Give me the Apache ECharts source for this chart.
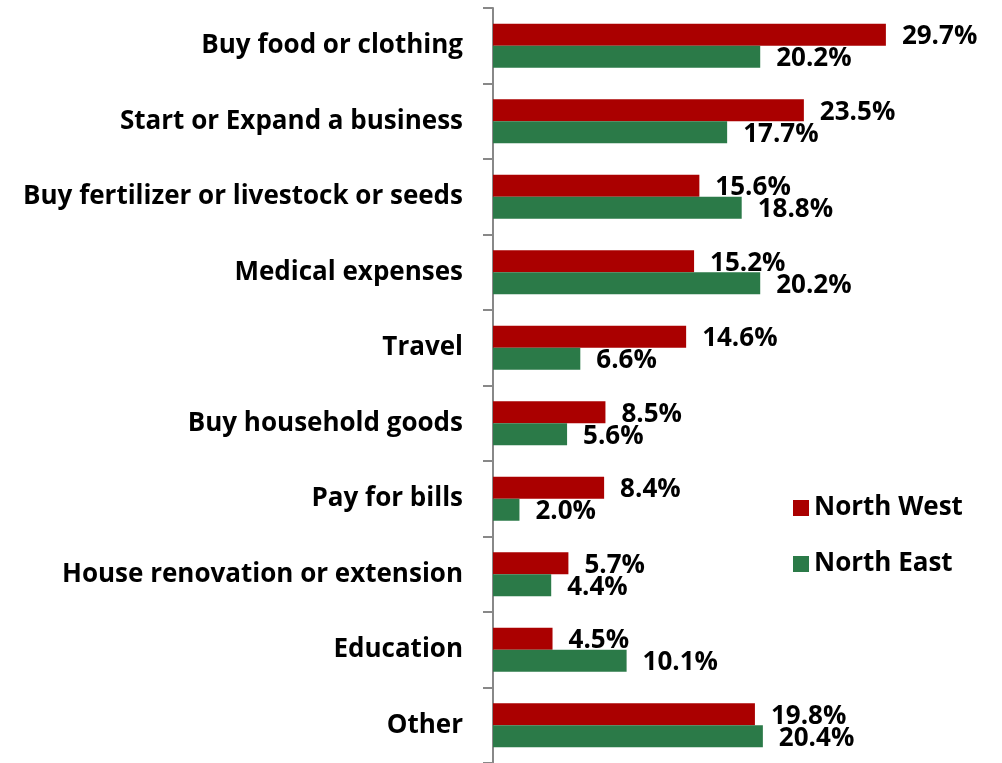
<!DOCTYPE html>
<html lang="en">
<head>
  <meta charset="UTF-8">
  <title>echarts</title>
  <style>
  html, body { margin: 0; padding: 0; background: #fff; }
  #main { width: 1002px; height: 763px; }
  </style>
  <script src="https://cdn.jsdelivr.net/npm/echarts@6/dist/echarts.min.js"></script>
</head>
<body>
  <div id="main"></div>
  <script>
  var categories = [
    'Buy food or clothing',
    'Start or Expand a business',
    'Buy fertilizer or livestock or seeds',
    'Medical expenses',
    'Travel',
    'Buy household goods',
    'Pay for bills',
    'House renovation or extension',
    'Education',
    'Other'
  ]
  var northWest = [29.7, 23.5, 15.6, 15.2, 14.6, 8.5, 8.4, 5.7, 4.5, 19.8]
  var northEast = [20.2, 17.7, 18.8, 20.2, 6.6, 5.6, 2.0, 4.4, 10.1, 20.4]

  var font = 'Open Sans'
  var valueLabel = {
    show: true,
    position: 'right',
    distance: 16,
    offset: [0, 2],
    color: '#000',
    fontFamily: font,
    fontWeight: 'bold',
    fontSize: 26,
    formatter: function (p) {
      return p.value.toFixed(1) + '%'
    }
  }

  var myChart = echarts.init(document.getElementById('main'))
  myChart.setOption({
    animation: false,
    backgroundColor: '#fff',
    grid: {
      left: 493,
      right: 46,
      top: 8,
      bottom: -1,
      containLabel: false
    },
    legend: {
      orient: 'vertical',
      left: 788,
      top: 490,
      itemWidth: 16,
      itemHeight: 16,
      itemGap: 30,
      icon: 'rect',
      textStyle: {
        color: '#000',
        fontFamily: font,
        fontWeight: 'bold',
        fontSize: 26
      },
      data: ['North West', 'North East']
    },
    xAxis: {
      type: 'value',
      min: 0,
      max: 35,
      show: false,
      splitLine: { show: false }
    },
    yAxis: {
      type: 'category',
      inverse: true,
      data: categories,
      axisLine: { show: true, lineStyle: { color: '#888', width: 2 } },
      axisTick: { show: true, length: 10, lineStyle: { color: '#888', width: 2 } },
      axisLabel: {
        margin: 30,
        padding: [4, 0, 0, 0],
        color: '#000',
        fontFamily: font,
        fontWeight: 'bold',
        fontSize: 26
      }
    },
    series: [
      {
        name: 'North West',
        type: 'bar',
        data: northWest,
        barWidth: 22,
        barGap: '0%',
        itemStyle: { color: '#AA0000' },
        label: valueLabel
      },
      {
        name: 'North East',
        type: 'bar',
        data: northEast,
        barWidth: 22,
        barGap: '0%',
        itemStyle: { color: '#2B7A48' },
        label: valueLabel
      }
    ]
  })
  </script>
</body>
</html>
